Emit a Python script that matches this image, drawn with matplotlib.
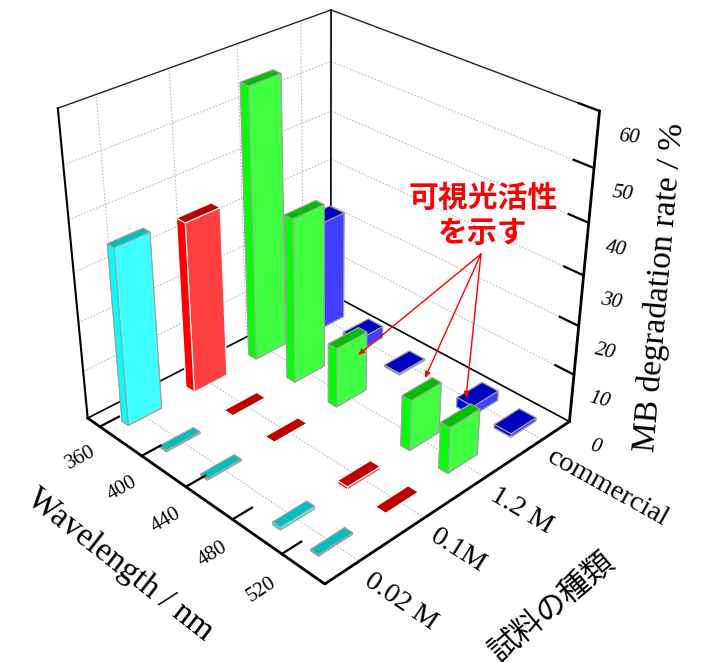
import matplotlib
matplotlib.use("Agg")
import matplotlib.pyplot as plt

wavelength_ticks = [360, 400, 440, 480, 520]
bar_wavelengths = [368, 404, 441, 502, 532]
samples = ["0.02 M", "0.1M", "1.2 M", "commercial"]
z_ticks = [0, 10, 20, 30, 40, 50, 60]

h_002 = [36, 0.3, 0.3, 0.6, 0.3]
h_01 = [35, 0.2, 0.2, 0.6, 0.2]
h_12 = [55.5, 34, 12.5, 10.5, 9.5]
h_comm = [23, 2.5, 0.3, 2.0, 0.7]
heights = [h_002, h_01, h_12, h_comm]

# (x+ face, y- face, top, edge)
colors = [("#40FFFF", "#00FFFF", "#00BFBF", "#A0A0A0"),
          ("#FF4040", "#FF0000", "#BF0000", "#FFFFFF"),
          ("#40FF40", "#00FF00", "#00BF00", "#A0A0A0"),
          ("#4040FF", "#0000FF", "#0000BF", "#A0A0A0")]
dx_list = [6, 8, 7, 13]
dy_list = [0.5, 0.52, 0.5, 0.45]

W, H = 705, 662
XMIN, XMAX = 348, 553
YMIN, YMAX = 0.5, 4.5
ZMIN, ZMAX = 0, 60

plt.rcParams["font.family"] = ["Liberation Serif", "Noto Sans CJK JP"]

fig = plt.figure(figsize=(W / 100, H / 100), dpi=100)
S = 606
ax = fig.add_axes([17 / W, 77 / H, S / W, S / H], projection="3d")
ax.set_proj_type("persp", focal_length=0.48)
ax.view_init(elev=30.8, azim=-44.3)
ax.set_box_aspect((1, 1, 0.998))
ax.set_xlim(XMIN, XMAX)
ax.set_ylim(YMIN, YMAX)
ax.set_zlim(ZMIN, ZMAX)
ax.set_axis_off()
ax.computed_zorder = False


def line(xs, ys, zs, color="k", lw=1.0, ls="-", zo=1):
    ax.plot(xs, ys, zs, color=color, lw=lw, ls=ls, zorder=zo)


# grid
for z in z_ticks[1:-1]:
    line([XMIN, XMIN], [YMIN, YMAX], [z, z], "#BBBBBB", 0.8, (0, (1.5, 1.5)))
    line([XMIN, XMAX], [YMAX, YMAX], [z, z], "#BBBBBB", 0.8, (0, (1.5, 1.5)))
for i in range(len(samples)):
    line([XMIN, XMIN], [i + 1, i + 1], [ZMIN, ZMAX], "#BBBBBB", 0.8, (0, (1.5, 1.5)))
    line([XMIN, XMAX], [i + 1, i + 1], [ZMIN, ZMIN], "#BBBBBB", 0.8, (0, (1.5, 1.5)))

# back frame
line([XMIN, XMIN], [YMIN, YMAX], [ZMAX, ZMAX], "#222222", 1.0)
line([XMIN, XMAX], [YMAX, YMAX], [ZMAX, ZMAX], "#222222", 1.0)
line([XMIN, XMIN], [YMAX, YMAX], [ZMIN, ZMAX], "k", 1.2)
line([XMIN, XMIN], [YMIN, YMAX], [ZMIN, ZMIN], "k", 1.2)
line([XMIN, XMAX], [YMAX, YMAX], [ZMIN, ZMIN], "k", 1.2)
line([XMIN, XMIN], [YMIN, YMIN], [ZMIN, ZMAX], "k", 1.5)

# bars, far ones first
zo = 2
for j in range(len(samples) - 1, -1, -1):
    cx, cy, ctop, cedge = colors[j]
    for i, xv in enumerate(bar_wavelengths):
        dx, dy = dx_list[j], dy_list[j]
        # bottom, top, y-, y+, x-, x+
        ax.bar3d(xv - dx / 2, j + 1 - dy / 2, 0, dx, dy, heights[j][i],
                 color=[ctop, ctop, cy, cy, cx, cx], edgecolor=cedge,
                 linewidth=0.8, shade=False, zorder=zo)
        zo += 1

# front axes
line([XMIN, XMAX], [YMIN, YMIN], [ZMIN, ZMIN], "k", 2.0, zo=zo)
line([XMAX, XMAX], [YMIN, YMAX], [ZMIN, ZMIN], "k", 2.0, zo=zo)
line([XMAX, XMAX], [YMAX, YMAX], [ZMIN, ZMAX], "k", 2.0, zo=zo)

for xv in wavelength_ticks:
    line([xv, xv], [YMIN, YMIN + 0.28], [ZMIN, ZMIN], "k", 1.6, zo=zo)
    ax.text(xv, 0.2, -4.5, str(xv), zdir=(0, 1, 0), fontsize=15, ha="center", va="center",
            rotation_mode="anchor", zorder=zo)
for i, s in enumerate(samples):
    ax.text(XMAX + 6, i + 1, -2.5, s, zdir=(1, 0, 0), fontsize=20.5, ha="left", va="center",
            rotation_mode="anchor", zorder=zo)
for z in z_ticks:
    if z > 0:
        line([XMAX, XMAX - 14], [YMAX, YMAX], [z, z], "k", 1.6, zo=zo)
    ax.text(XMAX + 20, YMAX, z - 2.5, str(z), zdir=(1, 0, 0.076), fontsize=15, style="italic",
            ha="center", va="center", rotation_mode="anchor", zorder=zo)


def fx(px):
    return px / W


def fy(py):
    return 1 - py / H


fig.text(fx(120), fy(565), "Wavelength / nm", fontsize=24, rotation=-38,
         ha="center", va="center", rotation_mode="anchor")
fig.text(fx(660), fy(287), "MB degradation rate / %", fontsize=24, rotation=85,
         ha="center", va="center", rotation_mode="anchor")
fig.text(fx(552), fy(606), "試料の種類", fontsize=22, rotation=40,
         ha="center", va="center", rotation_mode="anchor",
         family=["Noto Sans CJK JP"])
fig.text(fx(483), fy(198), "可視光活性", fontsize=21.5, color="red", fontweight="bold",
         ha="center", va="center", family=["Noto Sans CJK JP"])
fig.text(fx(483), fy(233), "を示す", fontsize=21.5, color="red", fontweight="bold",
         ha="center", va="center", family=["Noto Sans CJK JP"])

src = (fx(481), fy(254))
for tx, ty in [(358, 355), (425, 378), (466, 398)]:
    ax.annotate("", xy=(fx(tx), fy(ty)), xytext=src, xycoords="figure fraction",
                textcoords="figure fraction", zorder=zo + 1,
                arrowprops=dict(arrowstyle="-|>,head_length=0.35,head_width=0.15",
                                color="red", lw=1.0, shrinkA=0, shrinkB=0))

fig.savefig("out.png", dpi=100)
